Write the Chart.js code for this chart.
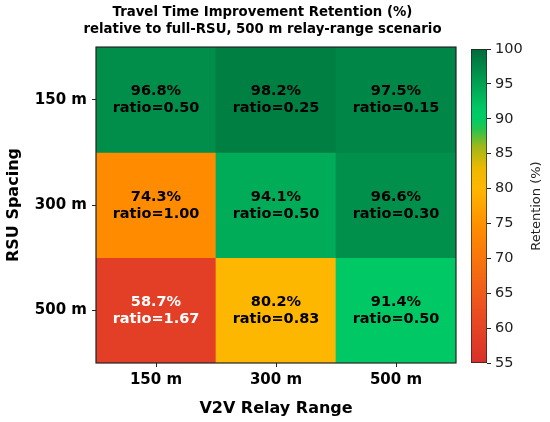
<!DOCTYPE html>
<html>
<head>
<meta charset="utf-8">
<title>Travel Time Improvement Retention</title>
<script src="https://cdn.jsdelivr.net/npm/chart.js@4.4.1/dist/chart.umd.min.js"></script>
<style>
  html, body { margin: 0; padding: 0; background: #fff; }
  #wrap { position: relative; width: 550px; height: 422px; }
  #heat { position: absolute; left: 0; top: 0; }
  #bar { position: absolute; left: 440px; top: 0; }
</style>
</head>
<body>
<div id="wrap">
  <canvas id="heat" width="550" height="422"></canvas>
  <canvas id="bar" width="110" height="422"></canvas>
</div>
<script>
'use strict'

const relayRanges = ['150 m', '300 m', '500 m']
const rsuSpacings = ['150 m', '300 m', '500 m']

// rows follow rsuSpacings, columns follow relayRanges
const retention150 = [96.8, 98.2, 97.5]
const retention300 = [74.3, 94.1, 96.6]
const retention500 = [58.7, 80.2, 91.4]
const ratio150 = [0.50, 0.25, 0.15]
const ratio300 = [1.00, 0.50, 0.30]
const ratio500 = [1.67, 0.83, 0.50]

const colorbarMin = 55
const colorbarMax = 100
const colorbarStep = 5

const retention = [retention150, retention300, retention500]
const ratios = [ratio150, ratio300, ratio500]

// red -> orange -> amber -> green -> dark green
const colorStops = [
  [55, [216, 48, 42]],
  [62, [234, 76, 34]],
  [74.3, [255, 140, 0]],
  [80, [255, 183, 0]],
  [83, [236, 184, 0]],
  [86, [160, 184, 24]],
  [88.5, [40, 196, 78]],
  [90, [0, 204, 102]],
  [91.5, [0, 200, 100]],
  [100, [0, 107, 58]],
]

function colorFor(v) {
  if (v <= colorStops[0][0]) return 'rgb(' + colorStops[0][1].join(',') + ')'
  for (let i = 1; i < colorStops.length; i++) {
    const [v1, c1] = colorStops[i]
    const [v0, c0] = colorStops[i - 1]
    if (v <= v1) {
      const t = (v - v0) / (v1 - v0)
      const c = c0.map((x, k) => Math.round(x + (c1[k] - x) * t))
      return 'rgb(' + c.join(',') + ')'
    }
  }
  return 'rgb(' + colorStops[colorStops.length - 1][1].join(',') + ')'
}

const FONT = "'DejaVu Sans', sans-serif"
const INK = '#000'

const frame = {
  id: 'frame',
  afterDatasetsDraw(chart) {
    const { ctx, chartArea: a } = chart
    ctx.save()
    ctx.strokeStyle = '#222'
    ctx.lineWidth = 1.2
    ctx.strokeRect(a.left, a.top, a.right - a.left, a.bottom - a.top)
    ctx.restore()
  },
}

// matplotlib centres the title a bit right of the canvas-wide box
const titleShift = {
  id: 'titleShift',
  afterLayout(chart) {
    const t = chart.titleBlock
    if (t) {
      t.left = 69
      t.width = t.right - t.left
    }
  },
}

const cellText = {
  id: 'cellText',
  afterDatasetsDraw(chart) {
    const ctx = chart.ctx
    ctx.save()
    ctx.font = 'bold 14.5px ' + FONT
    ctx.textAlign = 'center'
    ctx.textBaseline = 'middle'
    chart.data.datasets.forEach((ds, r) => {
      chart.getDatasetMeta(r).data.forEach((el, c) => {
        const { x, y, base } = el.getProps(['x', 'y', 'base'], true)
        const cy = (y + base) / 2
        const v = retention[r][c]
        ctx.fillStyle = v < 65 ? '#fff' : INK
        ctx.fillText(v.toFixed(1) + '%', x, cy - 8)
        ctx.fillText('ratio=' + ratios[r][c].toFixed(2), x, cy + 9)
      })
    })
    ctx.restore()
  },
}

new Chart(document.getElementById('heat'), {
  type: 'bar',
  data: {
    labels: relayRanges,
    datasets: rsuSpacings.map((name, r) => ({
      label: name,
      data: relayRanges.map(() => 1),
      backgroundColor: retention[r].map(colorFor),
      borderWidth: 0,
      barPercentage: 1,
      categoryPercentage: 1,
    })),
  },
  options: {
    responsive: false,
    animation: false,
    layout: { padding: { left: 2, right: 94, top: 0, bottom: 0 } },
    plugins: {
      legend: { display: false },
      tooltip: { enabled: false },
      title: {
        display: true,
        text: ['Travel Time Improvement Retention (%)', 'relative to full-RSU, 500 m relay-range scenario'],
        color: INK,
        font: { family: FONT, size: 13.3, weight: 'bold', lineHeight: 1.28 },
        padding: { top: 4, bottom: 9 },
      },
    },
    scales: {
      x: {
        stacked: true,
        grid: { offset: false, drawOnChartArea: false, tickLength: 4, color: '#222' },
        border: { display: false },
        ticks: { color: INK, padding: 4, font: { family: FONT, size: 15, weight: 'bold' } },
        title: {
          display: true,
          text: 'V2V Relay Range',
          color: INK,
          font: { family: FONT, size: 16, weight: 'bold' },
          padding: { top: 0, bottom: 4 },
        },
        afterFit(scale) { scale.height = 59 },
      },
      y: {
        stacked: true,
        reverse: true,
        min: 0,
        max: rsuSpacings.length,
        afterBuildTicks(scale) {
          scale.ticks = rsuSpacings.map((_, i) => ({ value: i + 0.5 }))
        },
        grid: { drawOnChartArea: false, tickLength: 4, color: '#222' },
        border: { display: false },
        ticks: {
          color: INK,
          padding: 5,
          font: { family: FONT, size: 15, weight: 'bold' },
          callback: (v) => rsuSpacings[Math.floor(v)],
        },
        title: {
          display: true,
          text: 'RSU Spacing',
          color: INK,
          font: { family: FONT, size: 16, weight: 'bold' },
          padding: { top: 2, bottom: 0 },
        },
        afterFit(scale) { scale.width = 94 },
      },
    },
  },
  plugins: [titleShift, cellText, frame],
})

const colorbarLabel = {
  id: 'colorbarLabel',
  afterDraw(chart) {
    const { ctx, chartArea: a } = chart
    ctx.save()
    ctx.translate(97, (a.top + a.bottom) / 2)
    ctx.rotate(-Math.PI / 2)
    ctx.font = '13px ' + FONT
    ctx.fillStyle = '#222'
    ctx.textAlign = 'center'
    ctx.textBaseline = 'middle'
    ctx.fillText('Retention (%)', 0, 0)
    ctx.restore()
  },
}

new Chart(document.getElementById('bar'), {
  type: 'bar',
  data: {
    labels: [''],
    datasets: [{
      data: [[colorbarMin, colorbarMax]],
      backgroundColor(context) {
        const chart = context.chart
        const y = chart.scales.y
        if (!chart.chartArea || !y) return null
        const g = chart.ctx.createLinearGradient(0, y.getPixelForValue(colorbarMin), 0, y.getPixelForValue(colorbarMax))
        colorStops.forEach(([v, c]) => {
          g.addColorStop((v - colorbarMin) / (colorbarMax - colorbarMin), 'rgb(' + c.join(',') + ')')
        })
        return g
      },
      borderColor: '#222',
      borderWidth: 1,
      borderSkipped: false,
      barPercentage: 1,
      categoryPercentage: 1,
    }],
  },
  options: {
    responsive: false,
    animation: false,
    layout: { padding: { left: 31, right: 0, top: 49, bottom: 59 } },
    plugins: { legend: { display: false }, tooltip: { enabled: false } },
    scales: {
      x: { display: false },
      y: {
        position: 'right',
        min: colorbarMin,
        max: colorbarMax,
        grid: { drawOnChartArea: false, tickLength: 4, color: '#222' },
        border: { display: false },
        ticks: { stepSize: colorbarStep, color: '#222', padding: 4, font: { family: FONT, size: 14.5 } },
        afterFit(scale) { scale.width = 63 },
      },
    },
  },
  plugins: [colorbarLabel],
})
</script>
</body>
</html>
